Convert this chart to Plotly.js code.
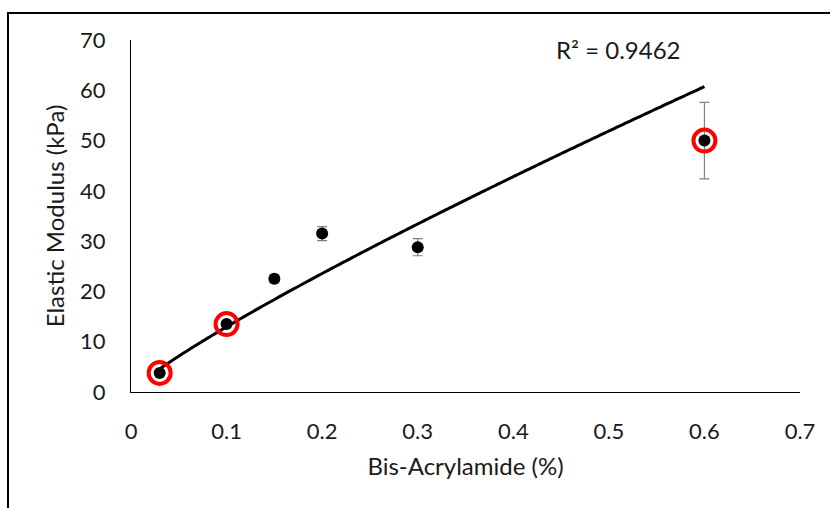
<!DOCTYPE html>
<html>
<head>
<meta charset="utf-8">
<script src="https://cdn.plot.ly/plotly-3.0.1.min.js"></script>
<style>
  html, body { margin: 0; padding: 0; background: #fff; }
  #wrap { position: relative; width: 830px; height: 508px; overflow: hidden; }
  #chart { position: absolute; left: 0; top: 0; width: 830px; height: 508px; }
  #frame { position: absolute; left: 7px; top: 12px; width: 900px; height: 600px;
           border-left: 2px solid #000; border-top: 2px solid #000; pointer-events: none; }
</style>
</head>
<body>
<div id="wrap">
  <div id="chart"></div>
  <div id="frame"></div>
</div>
<script>
// Data
const bisAcrylamide = [0.03, 0.10, 0.15, 0.20, 0.30, 0.60];
const elasticModulus = [3.8, 13.5, 22.5, 31.5, 28.8, 50.0];
const errorSD = [0.5, 0.6, 0.8, 1.4, 1.7, 7.6];
const highlightX = [0.03, 0.10, 0.60];
const highlightY = [3.8, 13.5, 50.0];
const xTicks = [0, 0.1, 0.2, 0.3, 0.4, 0.5, 0.6, 0.7];
const xTickLabels = ['0', '0.1', '0.2', '0.3', '0.4', '0.5', '0.6', '0.7'];
const yTicks = [0, 10, 20, 30, 40, 50, 60, 70];
const rSquaredLabel = 'R² = 0.9462';

// Power trendline (least squares in log-log space), as Excel does
const lx = bisAcrylamide.map(Math.log), ly = elasticModulus.map(Math.log);
const n = lx.length;
const mx = lx.reduce((a, b) => a + b, 0) / n, my = ly.reduce((a, b) => a + b, 0) / n;
let sxy = 0, sxx = 0;
for (let i = 0; i < n; i++) { sxy += (lx[i] - mx) * (ly[i] - my); sxx += (lx[i] - mx) ** 2; }
const bExp = sxy / sxx, aCoef = Math.exp(my - bExp * mx);
const xMin = Math.min(...bisAcrylamide), xMax = Math.max(...bisAcrylamide);
const trendX = [], trendY = [];
for (let i = 0; i <= 120; i++) {
  const x = xMin + (xMax - xMin) * i / 120;
  trendX.push(x); trendY.push(aCoef * Math.pow(x, bExp));
}

const font = 'Lato, "Open Sans", sans-serif';
const txt = '#1a1a1a';

const traces = [
  { x: trendX, y: trendY, mode: 'lines', type: 'scatter',
    line: { color: '#000', width: 3, shape: 'spline' }, hoverinfo: 'skip', showlegend: false },
  { x: bisAcrylamide, y: elasticModulus, mode: 'markers', type: 'scatter',
    marker: { color: '#000', size: 12 },
    error_y: { type: 'data', array: errorSD, visible: true, color: '#808080', thickness: 1.2, width: 5 },
    showlegend: false },
  { x: highlightX, y: highlightY, mode: 'markers', type: 'scatter',
    marker: { symbol: 'circle-open', size: 22, color: '#ff0000', line: { color: '#ff0000', width: 4 } },
    hoverinfo: 'skip', showlegend: false }
];

const layout = {
  width: 830, height: 508,
  margin: { l: 131, r: 30, t: 40, b: 116 },
  paper_bgcolor: '#fff', plot_bgcolor: '#fff',
  font: { family: font, size: 22, color: txt },
  showlegend: false,
  xaxis: {
    range: [0, 0.7], tickvals: xTicks, ticktext: xTickLabels,
    showgrid: false, zeroline: false, showline: true, linecolor: '#000', linewidth: 1,
    ticks: '', ticklabelstandoff: 20,
    tickfont: { family: font, size: 22, color: txt },
    title: { text: 'Bis-Acrylamide (%)', font: { family: font, size: 24, color: txt }, standoff: 14 }
  },
  yaxis: {
    range: [0, 70], tickvals: yTicks,
    showgrid: false, zeroline: false, showline: true, linecolor: '#000', linewidth: 1,
    ticks: '', ticklabelstandoff: 20,
    tickfont: { family: font, size: 22, color: txt },
    title: { text: 'Elastic Modulus (kPa)', font: { family: font, size: 24, color: txt }, standoff: 8 }
  },
  annotations: [{
    x: 0.51, y: 68.1, xref: 'x', yref: 'y', text: rSquaredLabel, showarrow: false,
    font: { family: font, size: 24, color: txt }, xanchor: 'center', yanchor: 'middle'
  }]
};

Plotly.newPlot('chart', traces, layout, { staticPlot: true, displayModeBar: false });
</script>
</body>
</html>
